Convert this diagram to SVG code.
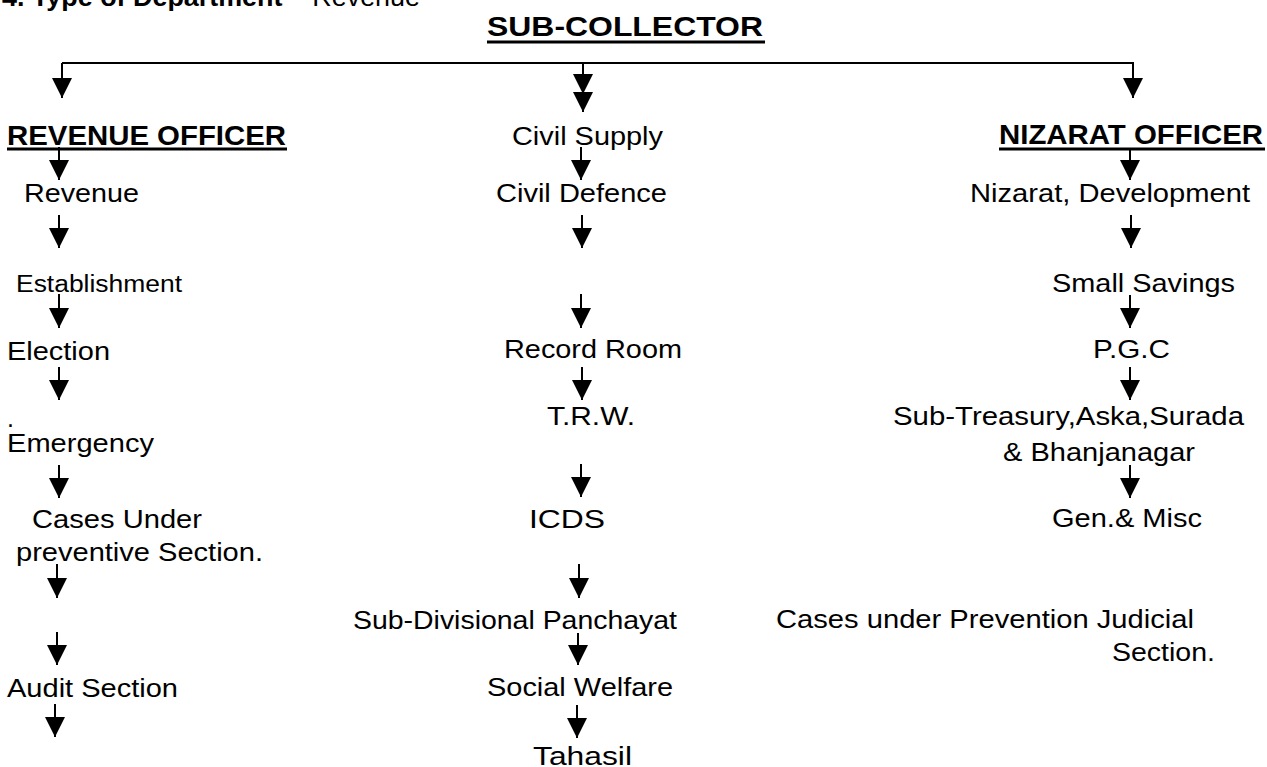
<svg xmlns="http://www.w3.org/2000/svg" width="1267" height="767" viewBox="0 0 1267 767">
<defs>
<style>
text{font-family:"Liberation Sans",Arial,sans-serif;fill:#000}
.t{font-size:25px}
.h{font-size:28px;font-weight:bold}
.ul{fill:#000}
.c{stroke:#000;stroke-width:2;fill:none}
</style>
<marker id="ah" markerUnits="userSpaceOnUse" markerWidth="20" markerHeight="20" viewBox="0 -10 20 20" refX="20" refY="0" orient="auto"><path d="M0,-10 L20,0 L0,10 z" fill="#000"/></marker>
</defs>
<rect width="1267" height="767" fill="#fff"/>

<g id="title"><text x="2" y="6" style="font-size:25px" textLength="418" lengthAdjust="spacingAndGlyphs"><tspan font-weight="bold">4. Type of Department</tspan> – Revenue</text></g>

<g id="sub-collector"><text class="h" x="487" y="36" textLength="276" lengthAdjust="spacingAndGlyphs">SUB-COLLECTOR</text><rect class="ul" x="487" y="40.5" width="278" height="3"/></g>

<g id="connectors">
<path class="c" d="M62,63 H1134"/>
<path class="c" d="M62,63 V98" marker-end="url(#ah)"/>
<path class="c" d="M583,63 V94 V112" marker-mid="url(#ah)" marker-end="url(#ah)"/>
<path class="c" d="M1133,63 V98" marker-end="url(#ah)"/>
<path class="c" d="M59,147 V180" marker-end="url(#ah)"/>
<path class="c" d="M59,215 V248" marker-end="url(#ah)"/>
<path class="c" d="M59,294 V328" marker-end="url(#ah)"/>
<path class="c" d="M59,367 V400" marker-end="url(#ah)"/>
<path class="c" d="M59,465 V498" marker-end="url(#ah)"/>
<path class="c" d="M57,564 V598" marker-end="url(#ah)"/>
<path class="c" d="M57,632 V665" marker-end="url(#ah)"/>
<path class="c" d="M55,704 V737" marker-end="url(#ah)"/>
<path class="c" d="M581,147 V180" marker-end="url(#ah)"/>
<path class="c" d="M582,215 V248" marker-end="url(#ah)"/>
<path class="c" d="M581,294 V328" marker-end="url(#ah)"/>
<path class="c" d="M582,367 V400" marker-end="url(#ah)"/>
<path class="c" d="M581,464 V497" marker-end="url(#ah)"/>
<path class="c" d="M579,564 V598" marker-end="url(#ah)"/>
<path class="c" d="M578,633 V665" marker-end="url(#ah)"/>
<path class="c" d="M577,705 V738" marker-end="url(#ah)"/>
<path class="c" d="M1130,150 V180" marker-end="url(#ah)"/>
<path class="c" d="M1131,215 V248" marker-end="url(#ah)"/>
<path class="c" d="M1130,295 V328" marker-end="url(#ah)"/>
<path class="c" d="M1130,367 V400" marker-end="url(#ah)"/>
<path class="c" d="M1130,465 V498" marker-end="url(#ah)"/>
</g>

<g id="revenue-officer"><text class="h" x="7" y="145" textLength="279" lengthAdjust="spacingAndGlyphs">REVENUE OFFICER</text><rect class="ul" x="7" y="147.5" width="280" height="3"/></g>
<g id="revenue"><text class="t" x="24" y="202" textLength="115" lengthAdjust="spacingAndGlyphs">Revenue</text></g>
<g id="establishment"><text class="t" x="16" y="292" textLength="166" lengthAdjust="spacingAndGlyphs" style="font-size:23px">Establishment</text></g>
<g id="election"><text class="t" x="7" y="360" textLength="103" lengthAdjust="spacingAndGlyphs">Election</text></g>
<g id="dot"><text class="t" x="7" y="427">.</text></g>
<g id="emergency"><text class="t" x="7" y="452" textLength="147" lengthAdjust="spacingAndGlyphs">Emergency</text></g>
<g id="cases-under"><text class="t" x="32" y="528" textLength="170" lengthAdjust="spacingAndGlyphs">Cases Under</text><text class="t" x="16" y="561" textLength="247" lengthAdjust="spacingAndGlyphs">preventive Section.</text></g>
<g id="audit"><text class="t" x="7" y="697" textLength="171" lengthAdjust="spacingAndGlyphs">Audit Section</text></g>

<g id="civil-supply"><text class="t" x="512" y="145" textLength="151" lengthAdjust="spacingAndGlyphs">Civil Supply</text></g>
<g id="civil-defence"><text class="t" x="496" y="202" textLength="171" lengthAdjust="spacingAndGlyphs">Civil Defence</text></g>
<g id="record-room"><text class="t" x="504" y="358" textLength="178" lengthAdjust="spacingAndGlyphs">Record Room</text></g>
<g id="trw"><text class="t" x="547" y="425" textLength="88" lengthAdjust="spacingAndGlyphs">T.R.W.</text></g>
<g id="icds"><text class="t" x="529" y="528" textLength="76" lengthAdjust="spacingAndGlyphs">ICDS</text></g>
<g id="sdp"><text class="t" x="353" y="629" textLength="324" lengthAdjust="spacingAndGlyphs">Sub-Divisional Panchayat</text></g>
<g id="social-welfare"><text class="t" x="487" y="696" textLength="186" lengthAdjust="spacingAndGlyphs">Social Welfare</text></g>
<g id="tahasil"><text class="t" x="533" y="765" textLength="99" lengthAdjust="spacingAndGlyphs">Tahasil</text></g>

<g id="nizarat-officer"><text class="h" x="999" y="144" textLength="264" lengthAdjust="spacingAndGlyphs">NIZARAT OFFICER</text><rect class="ul" x="999" y="147.5" width="266" height="3"/></g>
<g id="nizarat-dev"><text class="t" x="970" y="202" textLength="280" lengthAdjust="spacingAndGlyphs">Nizarat, Development</text></g>
<g id="small-savings"><text class="t" x="1052" y="292" textLength="183" lengthAdjust="spacingAndGlyphs">Small Savings</text></g>
<g id="pgc"><text class="t" x="1093" y="358" textLength="77" lengthAdjust="spacingAndGlyphs">P.G.C</text></g>
<g id="sub-treasury"><text class="t" x="893" y="425" textLength="351" lengthAdjust="spacingAndGlyphs">Sub-Treasury,Aska,Surada</text><text class="t" x="1003" y="461" textLength="192" lengthAdjust="spacingAndGlyphs">&amp; Bhanjanagar</text></g>
<g id="gen-misc"><text class="t" x="1052" y="527" textLength="150" lengthAdjust="spacingAndGlyphs">Gen.&amp; Misc</text></g>
<g id="cases-prevention"><text class="t" x="776" y="628" textLength="418" lengthAdjust="spacingAndGlyphs">Cases under Prevention Judicial</text><text class="t" x="1112" y="661" textLength="103" lengthAdjust="spacingAndGlyphs">Section.</text></g>
</svg>
